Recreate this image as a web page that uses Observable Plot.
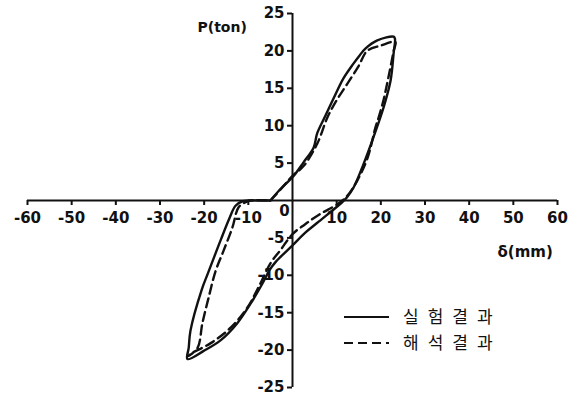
<!DOCTYPE html>
<html>
<head>
<meta charset="utf-8">
<script src="https://cdn.jsdelivr.net/npm/d3@7"></script>
<script src="https://cdn.jsdelivr.net/npm/@observablehq/plot@0.6"></script>
<style>
  body { margin: 0; background: #fff; }
  #chart { width: 570px; height: 396px; }
</style>
</head>
<body>
<div id="chart"></div>
<script>
// Axis ticks
const xTicks = [-60, -50, -40, -30, -20, -10, 10, 20, 30, 40, 50, 60];
const yTicks = [-25, -20, -15, -10, -5, 5, 10, 15, 20, 25];

// Experimental loop (실험결과): displacement δ (mm) and load P (ton)
const testDelta = [-5, -2.3, 0, 2.5, 4.8, 5.6, 7.5, 9.5, 11.5, 13.8, 15.2, 16.5, 19.2, 22.9,
  23.2, 22.9, 22.2, 20.6, 18.3, 16.1, 13.8, 12.3, 11.3, 6, 2.9, 0, -3.8, -5.2, -6.8,
  -9.5, -12.5, -16.3, -20.1, -23.8, -23.5, -23.1, -20.6, -19.2, -17.9, -16.2, -14.3, -12.9, -11.3, -10, -5];
const testLoad = [0, 1.8, 3.1, 5.1, 7.1, 9, 11.4, 13.9, 16.3, 18.3, 19.4, 20.3, 21.4, 21.9,
  21.6, 19.7, 16, 12.4, 8.4, 4.9, 1.7, 0.4, -0.2, -2.8, -4.3, -6, -8.2, -9.3, -11.1,
  -13.8, -16.4, -18.7, -20.1, -21.2, -19.7, -17.4, -12, -9.8, -7.8, -5.2, -2.4, -0.7, -0.1, 0, 0];

// Analytical loop (해석결과)
const analysisDelta = [-5, -2.5, 0, 2.5, 5.6, 7.9, 10, 12.4, 15, 16.9, 19.9, 23.3,
  22.9, 21.7, 20.6, 19.5, 18.8, 17, 14.7, 12.5, 10.4, 6, 2.8, 0, -2.7, -5, -7.7, -10.2,
  -14, -18.6, -23.1, -23.6, -21.5, -20.4, -19, -17.4, -15.6, -13.6, -12.2, -10.5, -9.5, -5];
const analysisLoad = [0, 1.6, 3.3, 4.6, 7.6, 11.1, 13.4, 15.6, 18, 20, 20.7, 21.2,
  20, 16.4, 13.4, 11.1, 9.8, 5.7, 2.7, 0.7, -0.4, -1.9, -3.2, -4.5, -6.6, -8.4, -11.6, -14.3,
  -17, -19.1, -20.5, -20.8, -19.7, -16.4, -13, -9.4, -6.7, -3.6, -0.9, -0.2, 0, 0];

const legendLabels = ["실험결과", "해석결과"];
const legendDash = [null, "9,5"];

const test = testDelta.map((d, i) => ({delta: d, load: testLoad[i]}));
const analysis = analysisDelta.map((d, i) => ({delta: d, load: analysisLoad[i]}));
const fmt = (v) => (v < 0 ? "-" + Math.abs(v) : String(v));
const ink = "#111";

const chart = Plot.plot({
  width: 570,
  height: 396,
  marginLeft: 27,
  marginRight: 13,
  marginTop: 13,
  marginBottom: 9,
  x: {domain: [-60, 60], axis: null},
  y: {domain: [-25, 25], axis: null},
  style: {fontFamily: "DejaVu Sans", fontSize: "15px", fontWeight: "bold", color: ink, background: "#fff"},
  marks: [
    // axes crossing at the origin
    Plot.ruleY([0], {x1: -60, x2: 60, stroke: ink, strokeWidth: 2}),
    Plot.ruleX([0], {y1: -25, y2: 25, stroke: ink, strokeWidth: 2}),
    Plot.ruleX(xTicks, {x: (d) => d, y1: 0, y2: 0, insetBottom: -5, stroke: ink, strokeWidth: 2}),
    Plot.ruleY(yTicks, {y: (d) => d, x1: 0, x2: 0, insetLeft: -5, stroke: ink, strokeWidth: 2}),
    Plot.text(xTicks, {x: (d) => d, y: 0, text: fmt, dy: 18, fill: ink}),
    Plot.text(yTicks, {x: 0, y: (d) => d, text: fmt, dx: -8, textAnchor: "end", fill: ink}),
    Plot.text(["0"], {x: 0, y: 0, text: (d) => d, dx: -8, dy: 11, fill: ink}),
    // axis titles
    Plot.text(["P(ton)"], {frameAnchor: "top-left", text: (d) => d, dx: 170, dy: 9, textAnchor: "start", fill: ink, fontSize: 14, letterSpacing: 1}),
    Plot.text(["δ(mm)"], {frameAnchor: "top-left", text: (d) => d, dx: 470, dy: 233, textAnchor: "start", fill: ink, fontSize: 15, letterSpacing: 1}),
    // hysteresis loops
    Plot.line(analysis, {x: "delta", y: "load", stroke: ink, strokeWidth: 2.4, strokeDasharray: "9,5", curve: "catmull-rom"}),
    Plot.line(test, {x: "delta", y: "load", stroke: ink, strokeWidth: 2.4, curve: "catmull-rom"})
  ]
});

// legend inside the plot area
const svg = d3.select(chart);
const lg = svg.append("g").attr("transform", "translate(344,317)");
legendLabels.forEach((label, i) => {
  const row = lg.append("g").attr("transform", `translate(0,${i * 26})`);
  row.append("line")
    .attr("x1", 0).attr("x2", 45).attr("y1", 0).attr("y2", 0)
    .attr("stroke", ink).attr("stroke-width", 1.8)
    .attr("stroke-dasharray", legendDash[i]);
  row.append("text")
    .attr("x", 59).attr("y", 0).attr("dy", "0.35em")
    .attr("text-anchor", "start")
    .attr("fill", ink)
    .style("font-family", "'Noto Sans CJK KR'")
    .style("font-size", "17px")
    .style("font-weight", "normal")
    .style("letter-spacing", "9px")
    .text(label);
});

document.getElementById("chart").appendChild(chart);
</script>
</body>
</html>
